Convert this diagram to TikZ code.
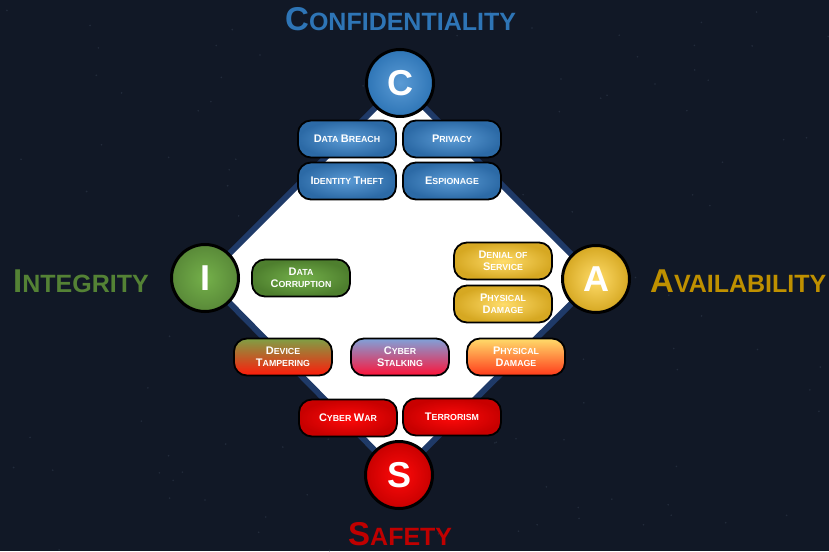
\documentclass[tikz,border=0pt]{standalone}
\usepackage{fontspec}
\setmainfont{Liberation Sans}
\usetikzlibrary{shadings}

% palette
\definecolor{bgcol}{HTML}{111826}
\definecolor{starcol}{HTML}{222B3B}
\definecolor{rimcol}{HTML}{1F3A68}
\definecolor{ctitle}{HTML}{2E75B6}
\definecolor{ititle}{HTML}{548235}
\definecolor{atitle}{HTML}{BF9000}
\definecolor{stitle}{HTML}{C00000}
\definecolor{blueIn}{HTML}{5B9BD5}
\definecolor{blueOut}{HTML}{2C6AA6}
\definecolor{greenIn}{HTML}{74B04A}
\definecolor{greenOut}{HTML}{4E7F2E}
\definecolor{goldIn}{HTML}{FFDC6A}
\definecolor{goldOut}{HTML}{D6A822}
\definecolor{redIn}{HTML}{FF0A0A}
\definecolor{redOut}{HTML}{C80000}
\definecolor{oliveTop}{HTML}{7FA045}
\definecolor{orangeMid}{HTML}{EC7A2C}
\definecolor{redBot}{HTML}{FF1A0A}
\definecolor{lilacTop}{HTML}{7FA2DA}
\definecolor{pinkMid}{HTML}{D9709A}
\definecolor{crimsonBot}{HTML}{FF1238}
\definecolor{amberMid}{HTML}{FFA542}
\definecolor{scarletBot}{HTML}{FF3A1A}

\pgfdeclarelayer{background}
\pgfsetlayers{background,main}

% faux small caps: larger first letter, smaller remainder
\newcommand\capword[2]{{\fontsize{11}{12}\selectfont#1}{\fontsize{8.8}{12}\selectfont#2}}
\newcommand\headword[2]{{\fontsize{33}{36}\selectfont#1}{\fontsize{25}{36}\selectfont#2}}

\tikzset{
  threatbox/.style={rounded corners=13pt, draw=black, line width=1.8pt,
    minimum width=98pt, minimum height=37pt, inner sep=0pt,
    text=white, align=center, font=\bfseries\fontsize{8.8}{12}\selectfont},
  bluebox/.style={threatbox, shading=radial, inner color=blueIn, outer color=blueOut},
  greenbox/.style={threatbox, shading=radial, inner color=greenIn, outer color=greenOut},
  goldbox/.style={threatbox, shading=radial, inner color=goldIn, outer color=goldOut},
  redbox/.style={threatbox, shading=radial, inner color=redIn, outer color=redOut},
  pillar/.style={circle, draw=black, line width=3pt, minimum size=67pt, inner sep=0pt,
    text=white, font=\bfseries\fontsize{36}{36}\selectfont},
  heading/.style={anchor=base west, inner sep=0pt, font=\bfseries},
}

\begin{document}
\begin{tikzpicture}[x=1pt, y=-1pt]
  \useasboundingbox (0,0) rectangle (829,551);

  % the four pillars
  \node[pillar, shading=radial, inner color=blueIn, outer color=ctitle] (C) at (400,83) {C};
  \node[pillar, shading=radial, inner color=greenIn, outer color=ititle!85!greenIn] (I) at (205,278) {I};
  \node[pillar, shading=radial, inner color=goldIn, outer color=goldOut] (A) at (596,279) {A};
  \node[pillar, shading=radial, inner color=redIn, outer color=redOut] (S) at (399,475) {S};

  \begin{pgfonlayer}{background}
    % night-sky backdrop
    \fill[bgcol] (0,0) rectangle (829,551);
    \pgfmathsetseed{17}
    \foreach \k in {1,...,110}{
      \pgfmathsetmacro\sx{rnd*829}
      \pgfmathsetmacro\sy{rnd*551}
      \fill[starcol] (\sx,\sy) circle[radius=0.9pt];
    }
    % white field spanned by the pillars
    \filldraw[fill=white, draw=rimcol, line width=6pt, line join=miter]
      (C.center) -- (A.center) -- (S.center) -- (I.center) -- cycle;
  \end{pgfonlayer}

  % headings
  \node[heading, text=ctitle] (tC) at (285,31) {\headword{C}{ONFIDENTIALITY}};
  \node[heading, text=ititle] (tI) at (13,292) {\headword{I}{NTEGRITY}};
  \node[heading, text=atitle] (tA) at (650,292) {\headword{A}{VAILABILITY}};
  \node[heading, text=stitle] (tS) at (348,545) {\headword{S}{AFETY}};

  % confidentiality threats
  \node[bluebox] (breach) at (347,139) {\capword{D}{ATA} \capword{B}{REACH}};
  \node[bluebox] (privacy) at (452,139) {\capword{P}{RIVACY}};
  \node[bluebox] (theft) at (347,181) {\capword{I}{DENTITY} \capword{T}{HEFT}};
  \node[bluebox] (espionage) at (452,181) {\capword{E}{SPIONAGE}};

  % integrity threat
  \node[greenbox] (corruption) at (301,278) {\capword{D}{ATA}\\\capword{C}{ORRUPTION}};

  % availability threats
  \node[goldbox] (denial) at (503,261) {\capword{D}{ENIAL OF}\\\capword{S}{ERVICE}};
  \node[goldbox] (damageA) at (503,304) {\capword{P}{HYSICAL}\\\capword{D}{AMAGE}};

  % threats shared with safety
  \node[threatbox, top color=oliveTop, middle color=orangeMid, bottom color=redBot]
    (tamper) at (283,357) {\capword{D}{EVICE}\\\capword{T}{AMPERING}};
  \node[threatbox, top color=lilacTop, middle color=pinkMid, bottom color=crimsonBot]
    (stalk) at (400,357) {\capword{C}{YBER}\\\capword{S}{TALKING}};
  \node[threatbox, top color=goldIn, middle color=amberMid, bottom color=scarletBot]
    (damageS) at (516,357) {\capword{P}{HYSICAL}\\\capword{D}{AMAGE}};

  % safety threats
  \node[redbox] (war) at (348,418) {\capword{C}{YBER} \capword{W}{AR}};
  \node[redbox] (terror) at (452,417) {\capword{T}{ERRORISM}};
\end{tikzpicture}
\end{document}
